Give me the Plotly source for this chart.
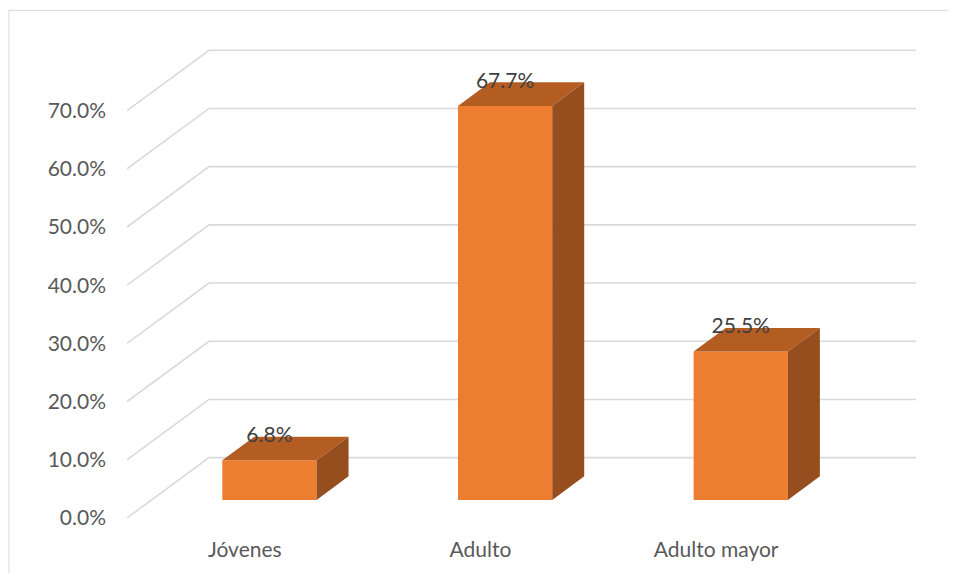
import plotly.graph_objects as go

categories = ["Jóvenes", "Adulto", "Adulto mayor"]
values = [6.8, 67.7, 25.5]
value_labels = ["6.8%", "67.7%", "25.5%"]
y_ticks = [0, 10, 20, 30, 40, 50, 60, 70]
y_tick_labels = ["0.0%", "10.0%", "20.0%", "30.0%", "40.0%", "50.0%", "60.0%", "70.0%"]

# pseudo-3D geometry (in axis units)
DX = 0.348      # depth shift of back wall along x (category units)
DY = 10.37      # depth shift of back wall along y (percent units)
F = 0.30        # depth of bar front face
D = 0.39        # bar depth
BW = 0.40       # bar width
X0, X1 = -0.5, 2.5

FRONT = "#ED7D31"
TOP = "#B35D22"
SIDE = "#964E1E"
GRID = "#D9D9D9"
FONT = "Lato"

fig = go.Figure()

# gridlines: diagonal on left + horizontal on back wall
shapes = []
for v in y_ticks:
    shapes.append(dict(type="path", xref="x", yref="y", layer="below",
                       path=f"M {X0},{v} L {X0+DX},{v+DY} L {X1+DX},{v+DY}",
                       line=dict(color=GRID, width=1.6)))
# outer chart frame
shapes.append(dict(type="rect", xref="paper", yref="paper", x0=-0.1496, x1=1.2, y0=-0.3, y1=1.071,
                   line=dict(color=GRID, width=1), fillcolor="rgba(0,0,0,0)", layer="below"))

# front faces
xs = [i + F * DX for i in range(len(categories))]
fig.add_trace(go.Bar(x=xs, y=values, base=[F * DY] * len(values), width=BW,
                     marker=dict(color=FRONT, line=dict(width=0)), showlegend=False, hoverinfo="skip"))

for i, v in enumerate(values):
    xl = xs[i] - BW / 2
    xr = xs[i] + BW / 2
    yb = F * DY
    yt = F * DY + v
    # top face
    fig.add_trace(go.Scatter(
        x=[xl, xr, xr + D * DX, xl + D * DX, xl],
        y=[yt, yt, yt + D * DY, yt + D * DY, yt],
        fill="toself", fillcolor=TOP, mode="lines", line=dict(width=0),
        showlegend=False, hoverinfo="skip"))
    # side face
    fig.add_trace(go.Scatter(
        x=[xr, xr + D * DX, xr + D * DX, xr, xr],
        y=[yb, yb + D * DY, yt + D * DY, yt, yb],
        fill="toself", fillcolor=SIDE, mode="lines", line=dict(width=0),
        showlegend=False, hoverinfo="skip"))

# data labels
fig.add_trace(go.Scatter(
    x=xs, y=[F * DY + v + D * DY for v in values], text=value_labels,
    mode="text", textposition="middle center",
    textfont=dict(family=FONT, size=21, color="#404040"),
    showlegend=False, hoverinfo="skip"))

fig.update_layout(
    width=940, height=565, autosize=False,
    margin=dict(l=119, r=32, t=36, b=50),
    paper_bgcolor="white", plot_bgcolor="white",
    font=dict(family=FONT, size=21, color="#595959"),
    shapes=shapes,
    xaxis=dict(range=[X0, X1 + DX], tickvals=list(range(len(categories))), ticktext=categories,
               showgrid=False, zeroline=False, showline=False, ticks="", ticklabelstandoff=17,
               fixedrange=True),
    yaxis=dict(range=[0, 479 / 5.881], tickvals=y_ticks, ticktext=y_tick_labels,
               showgrid=False, zeroline=False, showline=False, ticks="", ticklabelstandoff=20,
               fixedrange=True),
)

fig.write_html("out.html")
